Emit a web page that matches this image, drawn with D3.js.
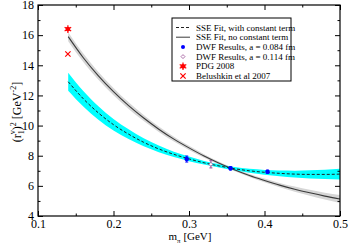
<!DOCTYPE html>
<html><head><meta charset="utf-8">
<script src="https://cdn.jsdelivr.net/npm/d3@7"></script>
<style>body{margin:0;background:#fff}svg{display:block}</style>
</head><body>
<svg id="c" width="349" height="247"></svg>
<script>
// ---- data ----
const fitX = [0.14,0.16,0.18,0.20,0.22,0.24,0.26,0.28,0.30,0.32,0.34,0.36,0.38,0.40,0.42,0.44,0.46,0.48,0.50];
const fitNoConst = [15.90,14.50,13.30,12.25,11.32,10.50,9.76,9.10,8.52,7.98,7.50,7.07,6.69,6.36,6.05,5.78,5.54,5.32,5.13];
const fitNoConstErr = [0.30,0.28,0.26,0.24,0.22,0.20,0.18,0.16,0.14,0.12,0.10,0.09,0.10,0.12,0.14,0.17,0.20,0.23,0.26];
const fitConst = [12.91,11.78,10.84,10.06,9.43,8.89,8.45,8.09,7.79,7.53,7.32,7.14,7.00,6.90,6.83,6.78,6.76,6.76,6.78];
const fitConstErr = [0.60,0.52,0.45,0.38,0.32,0.27,0.22,0.18,0.15,0.12,0.11,0.11,0.13,0.16,0.19,0.23,0.27,0.31,0.35];
const dwf084X = [0.297,0.355,0.404];
const dwf084Y = [7.78,7.16,6.94];
const dwf084Err = [0.20,0.10,0.10];
const dwf114X = [0.329];
const dwf114Y = [7.43];
const dwf114Err = [0.24];
const pdgX = [0.1396], pdgY = [16.4];
const belX = [0.1396], belY = [14.75];
const xTicks = [0.1,0.2,0.3,0.4,0.5];
const xTickLabels = ["0.1","0.2","0.3","0.4","0.5"];
const xMinor = [0.15,0.25,0.35,0.45];
const yTicks = [4,6,8,10,12,14,16,18];
const yMinor = [5,7,9,11,13,15,17];
const legendLabels = ["SSE Fit, with constant term","SSE Fit, no constant term","DWF Results, a = 0.084 fm","DWF Results, a = 0.114 fm","PDG 2008","Belushkin et al 2007"];

// ---- layout ----
const svg = d3.select("#c");
const L=38, R=340, T=5, B=216;
const x = d3.scaleLinear().domain([0.1,0.5]).range([L,R]);
const y = d3.scaleLinear().domain([4,18]).range([B,T]);
const FONT = "Liberation Serif, Times New Roman, serif";

const rowsNo = fitX.map((v,i)=>({x:v,y:fitNoConst[i],e:fitNoConstErr[i]}));
const rowsC = fitX.map((v,i)=>({x:v,y:fitConst[i],e:fitConstErr[i]}));
const area = d3.area().x(d=>x(d.x)).y0(d=>y(d.y-d.e)).y1(d=>y(d.y+d.e)).curve(d3.curveMonotoneX);
const line = d3.line().x(d=>x(d.x)).y(d=>y(d.y)).curve(d3.curveMonotoneX);

svg.append("path").datum(rowsNo).attr("d",area).attr("fill","#d6d6d6");
svg.append("path").datum(rowsC).attr("d",area).attr("fill","#00ffff");
svg.append("path").datum(rowsNo).attr("d",line).attr("fill","none").attr("stroke","#3a3a3a").attr("stroke-width",1.1);
svg.append("path").datum(rowsC).attr("d",line).attr("fill","none").attr("stroke","#222").attr("stroke-width",1).attr("stroke-dasharray","3,2");

// error bars + points
function errPts(xs,ys,es,color){
  const g = svg.append("g");
  xs.forEach((v,i)=>{
    const cx=x(v);
    g.append("line").attr("x1",cx).attr("x2",cx).attr("y1",y(ys[i]-es[i])).attr("y2",y(ys[i]+es[i])).attr("stroke",color).attr("stroke-width",1);
    [ys[i]-es[i],ys[i]+es[i]].forEach(t=>g.append("line").attr("x1",cx-1.5).attr("x2",cx+1.5).attr("y1",y(t)).attr("y2",y(t)).attr("stroke",color).attr("stroke-width",1));
  });
  return g;
}
errPts(dwf084X,dwf084Y,dwf084Err,"#0000ff");
svg.append("g").selectAll("circle").data(dwf084X).join("circle").attr("cx",d=>x(d)).attr("cy",(d,i)=>y(dwf084Y[i])).attr("r",2.3).attr("fill","#0000ff");
errPts(dwf114X,dwf114Y,dwf114Err,"#9a4f96");
svg.append("g").selectAll("path").data(dwf114X).join("path").attr("transform",(d,i)=>`translate(${x(d)},${y(dwf114Y[i])})`).attr("d",d3.symbol(d3.symbolDiamond2,10)).attr("fill","#fff").attr("stroke","#9a4f96").attr("stroke-width",0.8);

function pdgMark(g,cx,cy){
  g.append("circle").attr("cx",cx).attr("cy",cy).attr("r",2.4).attr("fill","#ff0000");
  g.append("path").attr("transform",`translate(${cx},${cy})`).attr("d",d3.symbol(d3.symbolAsterisk,40)).attr("fill","none").attr("stroke","#ff0000").attr("stroke-width",1.2);
}
function xMark(g,cx,cy){
  g.append("path").attr("transform",`translate(${cx},${cy})`).attr("d",d3.symbol(d3.symbolTimes,20)).attr("fill","none").attr("stroke","#ff0000").attr("stroke-width",1.2);
}
pdgX.forEach((v,i)=>pdgMark(svg,x(v),y(pdgY[i])));
belX.forEach((v,i)=>xMark(svg,x(v),y(belY[i])));

// axes
function styleAxis(g){g.select(".domain").remove();g.selectAll("line").attr("stroke","#000");g.selectAll("text").attr("font-family",FONT).attr("font-size",12).attr("fill","#000");}
svg.append("g").attr("transform",`translate(0,${B})`).call(d3.axisBottom(x).tickValues(xTicks).tickFormat((d,i)=>xTickLabels[i]).tickSize(-5).tickPadding(3)).call(styleAxis);
svg.append("g").attr("transform",`translate(0,${B})`).call(d3.axisBottom(x).tickValues(xMinor).tickFormat("").tickSize(-2.5)).call(styleAxis);
svg.append("g").attr("transform",`translate(0,${T})`).call(d3.axisTop(x).tickValues(xTicks).tickFormat("").tickSize(-5)).call(styleAxis);
svg.append("g").attr("transform",`translate(0,${T})`).call(d3.axisTop(x).tickValues(xMinor).tickFormat("").tickSize(-2.5)).call(styleAxis);
svg.append("g").attr("transform",`translate(${L},0)`).call(d3.axisLeft(y).tickValues(yTicks).tickFormat(d3.format("d")).tickSize(-5).tickPadding(4)).call(styleAxis);
svg.append("g").attr("transform",`translate(${L},0)`).call(d3.axisLeft(y).tickValues(yMinor).tickFormat("").tickSize(-2.5)).call(styleAxis);
svg.append("g").attr("transform",`translate(${R},0)`).call(d3.axisRight(y).tickValues(yTicks).tickFormat("").tickSize(-5)).call(styleAxis);
svg.append("g").attr("transform",`translate(${R},0)`).call(d3.axisRight(y).tickValues(yMinor).tickFormat("").tickSize(-2.5)).call(styleAxis);
svg.append("rect").attr("x",L).attr("y",T).attr("width",R-L).attr("height",B-T).attr("fill","none").attr("stroke","#000").attr("stroke-width",1.2);

// axis labels
const xl = svg.append("text").attr("x",190).attr("y",240).attr("text-anchor","middle").attr("font-family",FONT).attr("font-size",11);
xl.append("tspan").text("m");
xl.append("tspan").attr("font-size",7).attr("dy",2.5).text("π");
xl.append("tspan").attr("dy",-2.5).text(" [GeV]");

const yl = svg.append("text").attr("transform","translate(21,112) rotate(-90)").attr("text-anchor","middle").attr("font-family",FONT).attr("font-size",12);
yl.append("tspan").text("(r");
yl.append("tspan").attr("font-size",8).attr("dy",3).text("1");
yl.append("tspan").attr("font-size",8).attr("dx",-4).attr("dy",-9).text("v");
yl.append("tspan").attr("dy",6).text(")");
yl.append("tspan").attr("font-size",8).attr("dy",-5).text("2");
yl.append("tspan").attr("dy",5).text(" [GeV");
yl.append("tspan").attr("font-size",8).attr("dy",-5).text("-2");
yl.append("tspan").attr("dy",5).text("]");

// legend
const lg = svg.append("g");
lg.append("rect").attr("x",172).attr("y",18).attr("width",119).attr("height",63).attr("fill","#fff").attr("stroke","#000").attr("stroke-width",1);
const rowY = d=>27.5+d*9.7;
legendLabels.forEach((t,i)=>{
  lg.append("text").attr("x",196).attr("y",rowY(i)+3).attr("font-family",FONT).attr("font-size",9).text(t);
});
lg.append("line").attr("x1",176).attr("x2",190).attr("y1",rowY(0)).attr("y2",rowY(0)).attr("stroke","#222").attr("stroke-dasharray","3,2");
lg.append("line").attr("x1",176).attr("x2",190).attr("y1",rowY(1)).attr("y2",rowY(1)).attr("stroke","#3a3a3a");
lg.append("circle").attr("cx",183).attr("cy",rowY(2)).attr("r",2).attr("fill","#0000ff");
lg.append("path").attr("transform",`translate(183,${rowY(3)})`).attr("d",d3.symbol(d3.symbolDiamond2,10)).attr("fill","#fff").attr("stroke","#9a4f96").attr("stroke-width",0.8);
pdgMark(lg,183,rowY(4));
xMark(lg,183,rowY(5));
</script>
</body></html>
